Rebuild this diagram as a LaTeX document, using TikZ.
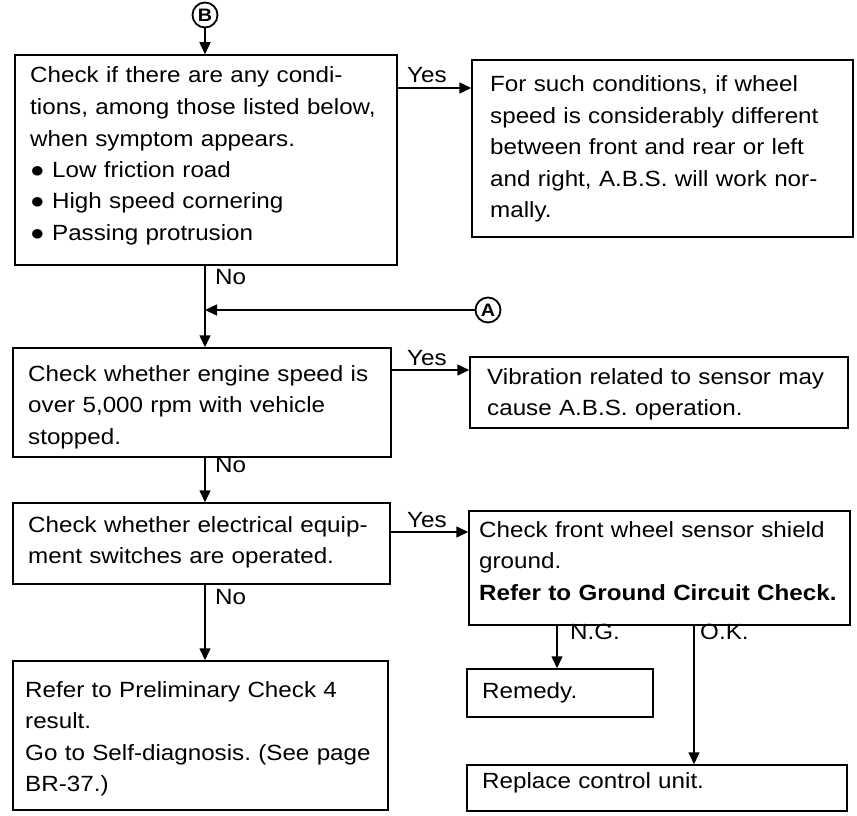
\documentclass[tikz,border=0pt]{standalone}
\usepackage{fontspec}
\setmainfont{Liberation Sans}[FakeStretch=1.1]
\usetikzlibrary{arrows.meta}
\frenchspacing
\begin{document}
\begin{tikzpicture}[x=1pt,y=-1pt,
  box/.style={draw, line width=1.5pt, inner sep=0pt},
  txt/.style={anchor=base west, inner sep=0pt, align=left, text width=400pt, font=\fontsize{22}{31.5}\selectfont},
  lbl/.style={anchor=base west, inner sep=0pt, font=\fontsize{22}{25}\selectfont},
  arr/.style={line width=1.5pt, -{Triangle[length=12pt,width=11pt]}},
  circ/.style={draw, circle, line width=1.8pt, minimum size=25pt, inner sep=0pt, font=\bfseries\fontsize{18}{18}\selectfont}]
\useasboundingbox (0,0) rectangle (857,816);
% coordinates for connector lines
\coordinate (vx) at (205,0);
\coordinate (yy1) at (0,88);
\coordinate (yy2) at (0,370);
\coordinate (yy3) at (0,532);
\coordinate (ng) at (557,0);
\coordinate (ok) at (694,0);
% boxes
\node[box, minimum width=382pt, minimum height=210pt] (b1) at (206,160) {};
\node[box, minimum width=381pt, minimum height=177pt] (b2) at (662.5,148.5) {};
\node[box, minimum width=378pt, minimum height=109pt] (b3) at (202,402.5) {};
\node[box, minimum width=378pt, minimum height=71pt] (b4) at (659,392.5) {};
\node[box, minimum width=377pt, minimum height=81pt] (b5) at (201.5,543.5) {};
\node[box, minimum width=381pt, minimum height=114pt] (b6) at (659.5,568) {};
\node[box, minimum width=375pt, minimum height=149pt] (b7) at (200.5,735.5) {};
\node[box, minimum width=186pt, minimum height=48pt] (b8) at (560,693) {};
\node[box, minimum width=380pt, minimum height=46pt] (b9) at (657,788) {};
% texts
\node[txt] (t1) at (30,83) {Check if there are any condi-\\tions, among those listed below,\\when symptom appears.\\● Low friction road\\● High speed cornering\\● Passing protrusion};
\node[txt] (t2) at (490,92) {For such conditions, if wheel\\speed is considerably different\\between front and rear or left\\and right, A.B.S. will work nor-\\mally.};
\node[txt] (t3) at (28,381) {Check whether engine speed is\\over 5,000 rpm with vehicle\\stopped.};
\node[txt] (t4) at (487,384) {Vibration related to sensor may\\cause A.B.S. operation.};
\node[txt] (t5) at (28,532) {Check whether electrical equip-\\ment switches are operated.};
\node[txt] (t6) at (479,537) {Check front wheel sensor shield\\ground.\\\textbf{Refer to Ground Circuit Check.}};
\node[txt] (t7) at (25,697) {Refer to Preliminary Check 4\\result.\\Go to Self-diagnosis. (See page\\BR-37.)};
\node[txt] (t8) at (482,698) {Remedy.};
\node[txt] (t9) at (482,788) {Replace control unit.};
% labels
\node[lbl] (yes1) at (407,83) {Yes};
\node[lbl] (yes2) at (407,365) {Yes};
\node[lbl] (yes3) at (407,527) {Yes};
\node[lbl] (no1) at (215,284) {No};
\node[lbl] (no2) at (215,472) {No};
\node[lbl] (no3) at (215,604) {No};
\node[lbl] (lng) at (570,639) {N.G.};
\node[lbl] (lok) at (700,639) {O.K.};
% connector circles
\node[circ] (B) at (205,15) {B};
\node[circ] (A) at (488,310) {A};
% connectors
\draw[arr] (B.south) -- (B.south |- b1.north);
\draw[arr] (b1.east |- yy1) -- (b2.west |- yy1);
\draw[arr] (b1.south -| vx) -- (b3.north -| vx);
\draw[arr] (A.west) -- (A.west -| vx);
\draw[arr] (b3.east |- yy2) -- (b4.west |- yy2);
\draw[arr] (b3.south -| vx) -- (b5.north -| vx);
\draw[arr] (b5.east |- yy3) -- (b6.west |- yy3);
\draw[arr] (b5.south -| vx) -- (b7.north -| vx);
\draw[arr] (b6.south -| ng) -- (b8.north -| ng);
\draw[arr] (b6.south -| ok) -- (b9.north -| ok);
\end{tikzpicture}
\end{document}
